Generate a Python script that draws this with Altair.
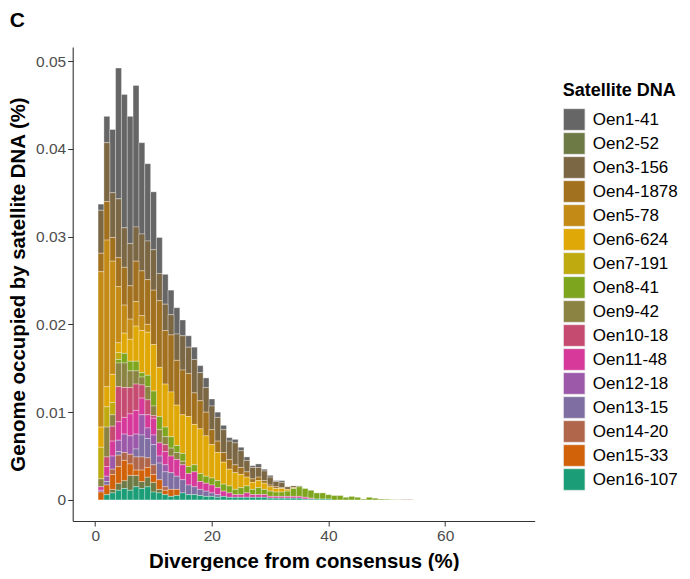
import altair as alt
import pandas as pd

# Divergence bins (%), one bar per integer bin
divergence = list(range(1, 55))

satellites = ["Oen1-41", "Oen2-52", "Oen3-156", "Oen4-1878", "Oen5-78", "Oen6-624",
              "Oen7-191", "Oen8-41", "Oen9-42", "Oen10-18", "Oen11-48", "Oen12-18",
              "Oen13-15", "Oen14-20", "Oen15-33", "Oen16-107"]
colors = ["#666666", "#6E7A45", "#7B6743", "#A2711F", "#C38A15", "#E0A806",
          "#BFAA0F", "#7DA61E", "#8A8342", "#C64B70", "#D6399A", "#9C59AA",
          "#7E6EA1", "#B0664B", "#D2620A", "#1B9E77"]
# visual stacking order, bottom -> top
stack_bottom_to_top = ["Oen16-107", "Oen2-52", "Oen15-33", "Oen14-20", "Oen13-15",
                       "Oen12-18", "Oen11-48", "Oen10-18", "Oen9-42", "Oen8-41",
                       "Oen7-191", "Oen6-624", "Oen5-78", "Oen4-1878", "Oen3-156", "Oen1-41"]

# genome fraction per bin, in units of 0.0001 % (trailing bins not listed are 0)
oen1 = [7, 30, 72, 149, 152, 145, 161, 104, 88, 66, 41, 34, 28, 30, 18, 13, 14, 8, 11, 8,
        6, 5, 4, 4, 4, 4, 2, 4, 2, 2, 1, 2]
oen2 = [0, 0, 4, 8, 9, 17, 13, 8, 11, 11, 4]
oen3 = [49, 67, 51, 67, 45, 48, 39, 42, 44, 46, 31, 30, 23, 30, 39, 30, 38, 32, 28, 27,
        27, 26, 21, 25, 19, 13, 13, 11, 11, 9, 6, 6, 3, 2, 1]
oen4 = [21, 44, 27, 33, 43, 38, 46, 51, 51, 62, 76, 61, 65, 51, 51, 49, 36, 32, 27, 17,
        13, 11, 11, 9, 8, 6, 4, 4, 3, 2, 2, 1]
oen5 = [177, 167, 129, 64, 32, 23, 28, 17, 9]
oen6 = [23, 23, 32, 11, 23, 25, 40, 48, 49, 53, 56, 49, 51, 46, 44, 57, 46, 51, 46, 38,
        32, 25, 19, 19, 15, 10, 8, 8, 7, 5, 4, 4, 2, 1]
oen7 = [36, 23, 14, 8]
oen8 = [0, 0, 0, 4, 11, 11, 11, 5, 13, 17, 15, 11, 13, 8, 9, 8, 8, 9, 8, 8,
        8, 8, 8, 6, 8, 8, 6, 8, 6, 6, 5, 5, 6, 9, 11, 10, 9, 7, 7, 5,
        5, 5, 3, 4, 3, 1, 3, 2, 1, 0.8, 0.4, 0.3]
oen9 = [9, 34, 13, 27, 28, 19, 15, 9, 15, 11, 15, 9, 9, 8, 4]
oen10 = [0, 11, 17, 40, 34, 30, 30, 15, 17, 3, 0, 8]
oen11 = [4, 11, 17, 21, 19, 25, 27, 19, 15, 19, 15, 15, 19, 19, 17, 13, 17, 9, 9, 9,
         8, 6, 5, 3, 3, 5, 3, 3, 3, 2, 2, 2, 2, 2, 2, 2, 1]
oen12 = [2, 6, 15, 13, 21, 21, 17, 23, 12, 11, 8, 8]
oen13 = [0, 4, 0, 4, 0, 0, 9, 25, 22, 23, 19, 17, 19, 15, 15, 11, 9, 7, 6, 4, 3]
oen14 = [0, 0, 6, 13, 9, 11, 15, 15, 11, 11, 0, 4, 0, 0, 0, 0, 0, 0, 0, 0,
         0, 0, 0, 0, 0, 0, 0, 0, 0, 0, 0, 0, 0, 0, 0, 0, 0, 0, 0, 0,
         0, 0, 0, 0, 0, 0, 0, 0, 0, 0, 0, 0, 0.5, 0.5]
oen15 = [9, 11, 17, 19, 23, 13, 6, 13, 11, 9, 11, 5, 8, 7]
oen16 = [0, 6, 8, 11, 13, 11, 15, 13, 15, 9, 8, 6, 4, 5, 8, 6, 6, 5, 4, 4,
         3, 4, 3, 3, 3, 3, 3, 3, 3, 2, 2, 2, 2, 2, 2, 1, 1, 1, 1, 1]

series = [oen1, oen2, oen3, oen4, oen5, oen6, oen7, oen8, oen9, oen10,
          oen11, oen12, oen13, oen14, oen15, oen16]

rows = []
for name, vals in zip(satellites, series):
    for d, v in zip(divergence, vals):
        if v > 0:
            rows.append({"div": d, "sat": name, "val": v * 1e-4,
                         "rank": stack_bottom_to_top.index(name)})
df = pd.DataFrame(rows)

FONT = "Liberation Sans"

bars = alt.Chart(df).mark_bar(width=5.9, stroke="white", strokeWidth=0.4, strokeOpacity=0.8).encode(
    x=alt.X("div:Q",
            scale=alt.Scale(domain=[-3, 74.5], nice=False, zero=False),
            axis=alt.Axis(values=[0, 20, 40, 60], format="d", title="Divergence from consensus (%)",
                          titlePadding=8)),
    y=alt.Y("val:Q", stack="zero",
            scale=alt.Scale(domain=[-0.0024, 0.0516], nice=False, zero=False),
            axis=alt.Axis(values=[0, 0.01, 0.02, 0.03, 0.04, 0.05], format="~g",
                          title="Genome occupied by satellite DNA (%)", titlePadding=7)),
    color=alt.Color("sat:N",
                    scale=alt.Scale(domain=satellites, range=colors),
                    legend=alt.Legend(title="Satellite DNA", orient="none",
                                      legendX=490, legendY=35, padding=0,
                                      symbolType="square", symbolSize=471,
                                      symbolStrokeColor="#eeeeee", symbolStrokeWidth=0.8,
                                      symbolOpacity=1,
                                      labelFontSize=17, labelFont=FONT, labelColor="black",
                                      labelOffset=7, rowPadding=-1,
                                      titleFontSize=18, titleFont=FONT, titleFontWeight="bold",
                                      titleColor="black", titlePadding=8)),
    order=alt.Order("rank:Q", sort="ascending"),
)

label = alt.Chart(pd.DataFrame({"t": ["C"]})).mark_text(
    align="left", baseline="alphabetic", fontSize=21, fontWeight="bold", font=FONT, color="black"
).encode(text="t:N", x=alt.value(-63), y=alt.value(-20))

chart = alt.layer(bars, label).properties(
    width=462, height=474,
    autosize=alt.AutoSizeParams(type="none"),
    padding={"left": 64.7, "top": 39, "right": 147.3, "bottom": 50},
    background="white",
).configure_view(stroke=None).configure_axis(
    grid=False, domainColor="#333333", domainWidth=1.1, tickColor="#333333", tickSize=5,
    labelFont=FONT, labelFontSize=15.5, labelColor="#4d4d4d", labelPadding=2,
    titleFont=FONT, titleFontSize=20.4, titleFontWeight="bold", titleColor="black",
)

chart.save("out.html", embed_options={"renderer": "svg", "actions": False})
